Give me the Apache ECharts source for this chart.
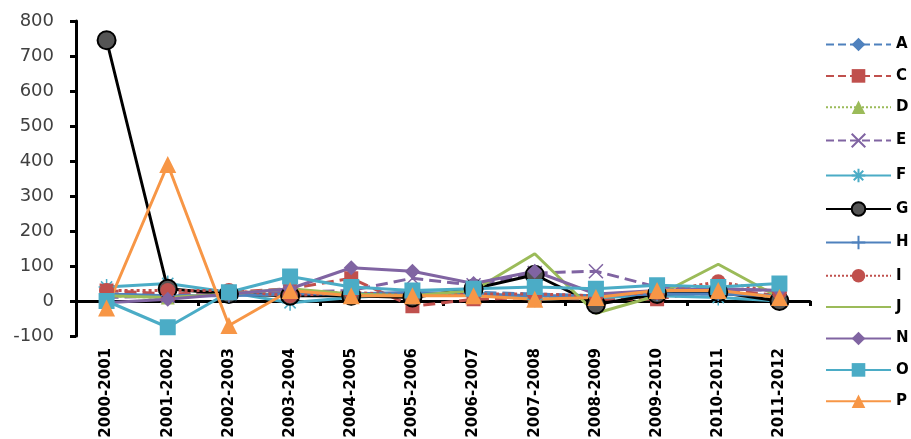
<!DOCTYPE html>
<html>
<head>
<meta charset="utf-8">
<script src="https://cdn.jsdelivr.net/npm/echarts@6/dist/echarts.min.js"></script>
<style>html,body{margin:0;padding:0;background:#fff;}#c{width:911px;height:439px;}</style>
</head>
<body>
<div id="c"></div>
<script>
var categories = ['2000-2001','2001-2002','2002-2003','2003-2004','2004-2005','2005-2006','2006-2007','2007-2008','2008-2009','2009-2010','2010-2011','2011-2012'];
var yTicks = [-100, 0, 100, 200, 300, 400, 500, 600, 700, 800];
var A = [20, 15, 20, 25, 20, 20, 25, 20, 15, 20, 20, 15];
var C = [30, 20, 25, 35, 65, -15, 5, 10, 5, 5, 35, 15];
var D = [15, 10, 20, 30, 20, 15, 20, 15, 10, 20, 25, 10];
var E = [10, 15, 20, 25, 30, 65, 45, 80, 85, 40, 35, 30];
var F = [40, 50, 25, -5, 10, 20, 25, 5, 10, 15, 10, 0];
var G = [745, 35, 20, 15, 15, 10, 35, 75, -10, 20, 25, 0];
var H = [20, 15, 15, 20, 20, 25, 20, 15, 15, 20, 20, 15];
var I = [30, 30, 30, 15, 25, 15, 20, 20, 15, 25, 55, 25];
var J = [15, 10, 20, 35, 20, 15, 30, 135, -35, 15, 105, 10];
var N = [-5, 5, 20, 35, 95, 85, 50, 85, 20, 30, 35, 30];
var O = [0, -75, 25, 70, 40, 30, 35, 40, 35, 45, 40, 50];
var P = [-20, 390, -70, 30, 15, 15, 15, 5, 10, 30, 30, 10];

var strokeSym = function (c) { return { color: 'none', borderColor: c, borderWidth: 1.5 }; };
function mk(name, data, color, type, symbol, size, extra) {
  var s = {
    name: name, type: 'line', data: data, xAxisIndex: 0,
    symbol: symbol, symbolSize: size,
    lineStyle: { color: color, width: 3, type: type },
    itemStyle: { color: color },
    emphasis: { disabled: true }
  };
  if (extra) for (var k in extra) s[k] = extra[k];
  return s;
}
var series = [
  mk('A', A, '#4F81BD', 'dashed', 'diamond', 13),
  mk('C', C, '#C0504D', 'dashed', 'rect', 14),
  mk('D', D, '#9BBB59', 'dotted', 'triangle', 14),
  mk('E', E, '#8064A2', 'dashed', 'path://M0,0L10,10M10,0L0,10', 14, { itemStyle: strokeSym('#8064A2') }),
  mk('F', F, '#4BACC6', 'solid', 'path://M5,0L5,10M0,5L10,5M1.5,1.5L8.5,8.5M8.5,1.5L1.5,8.5', 16, { itemStyle: strokeSym('#4BACC6') }),
  mk('G', G, '#000000', 'solid', 'circle', 18, { itemStyle: { color: '#555', borderColor: '#000', borderWidth: 2 } }),
  mk('H', H, '#4F81BD', 'solid', 'path://M5,0L5,10M0,5L10,5', 14, { itemStyle: strokeSym('#4F81BD') }),
  mk('I', I, '#C0504D', 'dotted', 'circle', 15),
  mk('J', J, '#9BBB59', 'solid', 'circle', 0, { showSymbol: false, itemStyle: { color: 'none', borderWidth: 0 } }),
  mk('N', N, '#8064A2', 'solid', 'diamond', 15),
  mk('O', O, '#4BACC6', 'solid', 'rect', 16),
  mk('P', P, '#F79646', 'solid', 'triangle', 17)
];

var chart = echarts.init(document.getElementById('c'));
chart.setOption({
  animation: false,
  backgroundColor: '#fff',
  grid: { left: 76, right: 101, top: 21, bottom: 103, containLabel: false, outerBoundsMode: 'none' },
  legend: {
    orient: 'vertical', left: 825, top: 37, padding: 0,
    itemWidth: 65, itemHeight: 17, itemGap: 16.4,
    textStyle: { fontFamily: 'DejaVu Sans', fontWeight: 'bold', fontSize: 15, color: '#000' },
    data: ['A','C','D','E','F','G','H','I','J','N','O','P']
  },
  xAxis: [
    {
      type: 'category', data: categories, position: 'bottom',
      axisLine: { onZero: true, lineStyle: { color: '#000', width: 3 } },
      axisTick: { show: true, length: 5, lineStyle: { color: '#000', width: 3 } },
      axisLabel: { show: false },
      splitLine: { show: false }
    },
    {
      type: 'category', data: categories, position: 'bottom',
      axisLine: { show: false, onZero: false },
      axisTick: { show: false },
      axisLabel: { rotate: 90, margin: 12, fontFamily: 'DejaVu Sans', fontWeight: 'bold', fontSize: 15, color: '#000' },
      splitLine: { show: false }
    }
  ],
  yAxis: {
    type: 'value', min: yTicks[0], max: yTicks[yTicks.length - 1], interval: 100,
    axisLine: { show: true, lineStyle: { color: '#000', width: 3 } },
    axisTick: { show: true, length: 6, lineStyle: { color: '#000', width: 3 } },
    axisLabel: { margin: 22, fontFamily: 'DejaVu Sans', fontSize: 18, color: '#404040' },
    splitLine: { show: false }
  },
  series: series
});
</script>
</body>
</html>
